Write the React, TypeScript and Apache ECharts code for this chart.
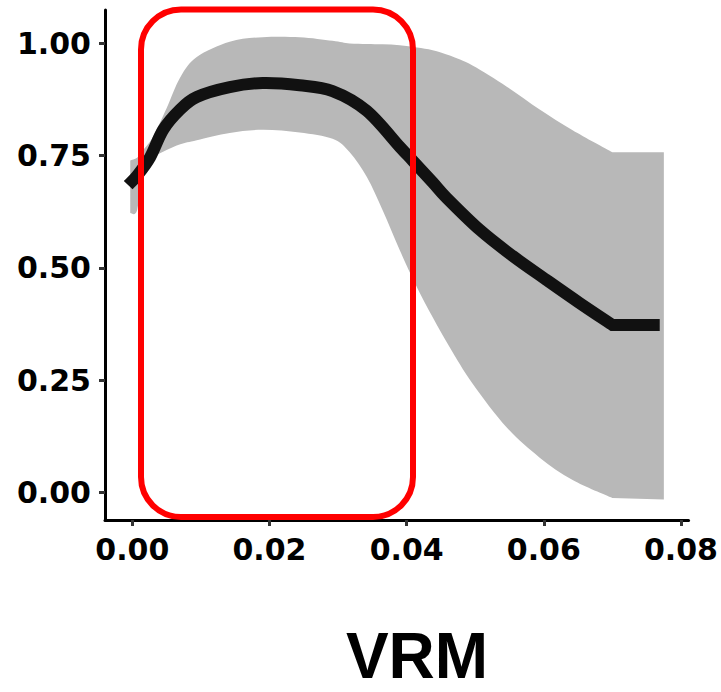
import React, { useEffect, useRef } from "react";
import * as echarts from "echarts";

// Fitted curve (VRM on x, estimate on y)
const lineX = [-0.0006, 0.0007, 0.0026, 0.0045, 0.0069, 0.0094, 0.0142, 0.019, 0.0244, 0.0292, 0.0342, 0.039, 0.0409, 0.0438, 0.0458, 0.0507, 0.0555, 0.0604, 0.0652, 0.07, 0.0769];
const lineY = [0.684, 0.705, 0.746, 0.807, 0.851, 0.88, 0.902, 0.911, 0.906, 0.893, 0.849, 0.769, 0.738, 0.69, 0.656, 0.584, 0.526, 0.473, 0.422, 0.373, 0.373];

// Confidence band
const bandX = [-0.0003, 0.0007, 0.0016, 0.003, 0.005, 0.007, 0.0094, 0.0142, 0.019, 0.0244, 0.0292, 0.0317, 0.0342, 0.0365, 0.039, 0.0415, 0.0438, 0.0463, 0.0496, 0.0546, 0.0594, 0.0642, 0.07, 0.0775];
const bandUpper = [0.739, 0.745, 0.762, 0.791, 0.855, 0.924, 0.969, 1.003, 1.013, 1.013, 1.005, 0.999, 0.998, 0.997, 0.995, 0.99, 0.984, 0.972, 0.95, 0.903, 0.852, 0.806, 0.757, 0.757];
const bandLower = [0.622, 0.628, 0.717, 0.745, 0.762, 0.775, 0.784, 0.8, 0.807, 0.801, 0.787, 0.757, 0.702, 0.628, 0.539, 0.457, 0.39, 0.323, 0.243, 0.145, 0.078, 0.028, -0.012, -0.015];

// The smoothed part ends where the flat tail begins
const tailStart = 0.07;

// Axis ticks
const xTicks = [0, 0.02, 0.04, 0.06, 0.08];
const yTicks = [0, 0.25, 0.5, 0.75, 1.0];
const xTitle = "VRM";

// Smooth path (Catmull-Rom -> cubic Bezier) through pixel points
function smoothSegments(pts: number[][], t: number): string {
  let d = "";
  for (let i = 0; i < pts.length - 1; i++) {
    const p0 = pts[Math.max(0, i - 1)];
    const p1 = pts[i];
    const p2 = pts[i + 1];
    const p3 = pts[Math.min(pts.length - 1, i + 2)];
    const c1x = p1[0] + ((p2[0] - p0[0]) / 6) * t;
    const c1y = p1[1] + ((p2[1] - p0[1]) / 6) * t;
    const c2x = p2[0] - ((p3[0] - p1[0]) / 6) * t;
    const c2y = p2[1] - ((p3[1] - p1[1]) / 6) * t;
    d += ` C${c1x},${c1y} ${c2x},${c2y} ${p2[0]},${p2[1]}`;
  }
  return d;
}

// Smooth up to the tail start, then straight lines
function curveThenTail(xs: number[], ys: number[], api: any): { head: number[][]; tail: number[][] } {
  const head: number[][] = [];
  const tail: number[][] = [];
  xs.forEach((x, i) => {
    const p = api.coord([x, ys[i]]);
    if (x <= tailStart) head.push(p);
    if (x >= tailStart) tail.push(p);
  });
  return { head, tail };
}

export default function App() {
  const ref = useRef<HTMLDivElement>(null);
  useEffect(() => {
    if (!ref.current) return;
    const chart = echarts.init(ref.current, null, { renderer: "svg" });
    const tickLabelStyle = {
      fontFamily: "DejaVu Sans",
      fontWeight: "bold" as const,
      fontSize: 30,
      color: "#000",
    };
    const axisLine = { show: true, onZero: false, lineStyle: { color: "#000", width: 3 } };
    const axisTick = { show: true, length: 6, lineStyle: { color: "#333", width: 3 } };
    chart.setOption({
      animation: false,
      grid: { left: 105, right: 32, top: 10, bottom: 172, containLabel: false },
      xAxis: {
        type: "value",
        min: -0.00398,
        max: 0.0811,
        axisLine,
        axisTick: { ...axisTick, customValues: xTicks },
        splitLine: { show: false },
        axisLabel: {
          ...tickLabelStyle,
          margin: 14,
          customValues: xTicks,
          formatter: (v: number) => v.toFixed(2),
        },
      },
      yAxis: {
        type: "value",
        min: -0.0607,
        max: 1.0734,
        axisLine,
        axisTick: { ...axisTick, customValues: yTicks },
        splitLine: { show: false },
        axisLabel: {
          ...tickLabelStyle,
          margin: 14,
          customValues: yTicks,
          formatter: (v: number) => v.toFixed(2),
        },
      },
      series: [
        {
          type: "custom",
          name: "band",
          data: [[bandX[0], bandUpper[0]]],
          silent: true,
          z: 1,
          renderItem: (params: any, api: any) => {
            const up = curveThenTail(bandX, bandUpper, api);
            const lo = curveThenTail(bandX, bandLower, api);
            let d = `M${up.head[0][0]},${up.head[0][1]}` + smoothSegments(up.head, 1);
            up.tail.slice(1).forEach((p) => (d += ` L${p[0]},${p[1]}`));
            const loTail = lo.tail.slice().reverse();
            loTail.forEach((p) => (d += ` L${p[0]},${p[1]}`));
            const loHead = lo.head.slice().reverse();
            d += smoothSegments(loHead, 1) + " Z";
            return {
              type: "path",
              shape: { pathData: d },
              style: { fill: "#b8b8b8", stroke: "none" },
            };
          },
        },
        {
          type: "custom",
          name: "fit",
          data: [[lineX[0], lineY[0]]],
          silent: true,
          z: 2,
          renderItem: (params: any, api: any) => {
            const ln = curveThenTail(lineX, lineY, api);
            let d = `M${ln.head[0][0]},${ln.head[0][1]}` + smoothSegments(ln.head, 1);
            ln.tail.slice(1).forEach((p) => (d += ` L${p[0]},${p[1]}`));
            return {
              type: "path",
              shape: { pathData: d },
              style: { fill: "none", stroke: "#111", lineWidth: 12, lineJoin: "miter" },
            };
          },
        },
      ],
      graphic: [
        {
          type: "rect",
          z: 100,
          shape: { x: 141, y: 9.5, width: 272, height: 507.5, r: 40 },
          style: { fill: "none", stroke: "#ff0000", lineWidth: 6 },
        },
        {
          type: "text",
          x: 417,
          y: 688,
          style: {
            text: xTitle,
            fontFamily: "Liberation Sans",
            fontWeight: "bold",
            fontSize: 64,
            fill: "#000",
            textAlign: "center",
            textVerticalAlign: "bottom",
          },
        },
      ],
    });
    return () => chart.dispose();
  }, []);
  return (
    <div
      ref={ref}
      style={{ position: "absolute", left: 0, top: 0, width: 721, height: 692, background: "#fff" }}
    />
  );
}
